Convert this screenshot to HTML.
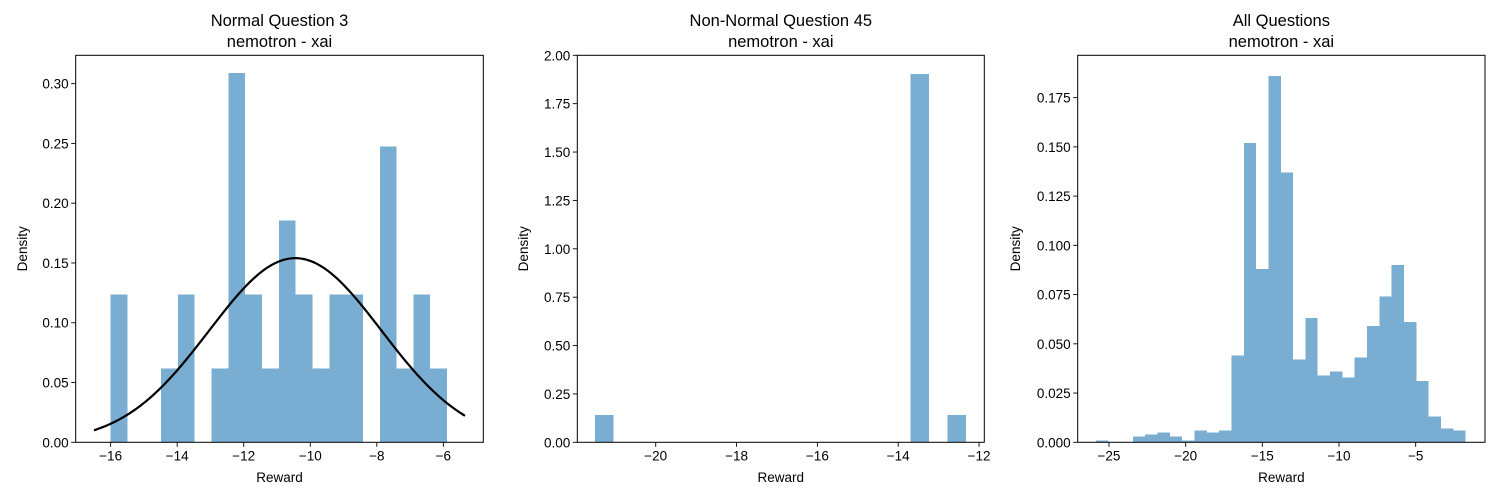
<!DOCTYPE html>
<html><head><meta charset="utf-8"><style>
body{margin:0;background:#fff;}
svg{display:block;font-family:"Liberation Sans","DejaVu Sans",sans-serif;}
</style></head><body>
<svg id="chart" width="1500" height="500" viewBox="0 0 1500 500"></svg>
<script>
// Panel 1: Normal Question 3
const p1BinStart = -16.0;
const p1BinWidth = 0.5055;
const p1Counts = [2,0,0,1,2,0,1,5,2,1,3,2,1,2,2,0,4,1,2,1];
const p1Total = 32;
const p1Mean = -10.45;
const p1Sigma = 2.59;
const p1XTicks = [-16,-14,-12,-10,-8,-6];
const p1YTicks = [0,0.05,0.10,0.15,0.20,0.25,0.30];
// Panel 2: Non-Normal Question 45
const p2BinStart = -21.5;
const p2BinWidth = 0.459;
const p2Density = [0.141,0,0,0,0,0,0,0,0,0,0,0,0,0,0,0,0,1.903,0,0.141];
const p2XTicks = [-20,-18,-16,-14,-12];
const p2YTicks = [0,0.25,0.5,0.75,1.0,1.25,1.5,1.75,2.0];
// Panel 3: All Questions
const p3BinStart = -25.85;
const p3BinWidth = 0.8035;
const p3Density = [0.001,0,0,0.003,0.004,0.005,0.003,0.001,0.006,0.005,0.006,0.044,0.152,0.088,0.186,0.137,0.042,0.063,0.034,0.036,0.033,0.043,0.059,0.074,0.090,0.061,0.031,0.013,0.007,0.006];
const p3XTicks = [-25,-20,-15,-10,-5];
const p3YTicks = [0,0.025,0.05,0.075,0.1,0.125,0.15,0.175];

const NS='http://www.w3.org/2000/svg';
const svg=document.getElementById('chart');
function mk(tag,attrs,parent){const e=document.createElementNS(NS,tag);for(const k in attrs)e.setAttribute(k,attrs[k]);(parent||svg).appendChild(e);return e;}

function panel(cfg){
  const g=mk('g',{});
  
  
  const L=cfg.left,R=cfg.right,T=55.3,B=442.3;
  const sx=v=>L+(v-cfg.xmin)/(cfg.xmax-cfg.xmin)*(R-L);
  const sy=v=>B-(v-0)/(cfg.ymax)*(B-T);
  cfg.dens.forEach((d,i)=>{
    if(d<=0) return;
    const x0=sx(cfg.start+i*cfg.w),x1=sx(cfg.start+(i+1)*cfg.w);
    const r=mk('rect',{x:x0,y:sy(d),width:x1-x0,height:B-sy(d),fill:'#79add2','shape-rendering':'crispEdges'},g);
    
    
  });
  if(cfg.curve){
    let pts=[];
    for(let k=0;k<=200;k++){const x=cfg.curve.a+(cfg.curve.b-cfg.curve.a)*k/200;
      const y=Math.exp(-0.5*Math.pow((x-cfg.curve.mu)/cfg.curve.s,2))/(cfg.curve.s*Math.sqrt(2*Math.PI));
      pts.push(sx(x).toFixed(2)+','+sy(y).toFixed(2));}
    const pl=mk('polyline',{points:pts.join(' '),fill:'none',stroke:'#000','stroke-width':2.2},g);
    
    
  }
  const fr=mk('rect',{x:L,y:T,width:R-L,height:B-T,fill:'none',stroke:'#000','stroke-width':1},g);
  
  
  cfg.xt.forEach(t=>{const x=sx(t);
    mk('line',{x1:x,x2:x,y1:B,y2:B+4.5,stroke:'#000','stroke-width':0.9},g);
    const tx=mk('text',{x:x,y:B+18,'font-size':13.5,'text-anchor':'middle',fill:'#000'},g);
    tx.textContent=(t<0?'\u2212'+(-t):String(t));
    
    
  });
  cfg.yt.forEach(t=>{const y=sy(t);
    mk('line',{x1:L-4.5,x2:L,y1:y,y2:y,stroke:'#000','stroke-width':0.9},g);
    const tx=mk('text',{x:L-7,y:y+5,'font-size':13.5,'text-anchor':'end',fill:'#000'},g);
    tx.textContent=t.toFixed(cfg.dec);
    
    
  });
  const cx=(L+R)/2;
  const t1=mk('text',{x:cx,y:26,'font-size':16.5,'text-anchor':'middle'},g);t1.textContent=cfg.title;
  
  
  const t2=mk('text',{x:cx,y:47,'font-size':16.5,'text-anchor':'middle'},g);t2.textContent='nemotron - xai';
  
  
  const xl=mk('text',{x:cx,y:482,'font-size':13.5,'text-anchor':'middle'},g);xl.textContent='Reward';
  
  
  const yy=(T+B)/2;
  const yl=mk('text',{x:cfg.ylx,y:yy,'font-size':13.5,'text-anchor':'middle',transform:'rotate(-90 '+cfg.ylx+' '+yy+')'},g);yl.textContent='Density';
  
  
}
const p1Dens=p1Counts.map(c=>c/(p1Total*p1BinWidth));
panel({name:'panel-normal-question-3',left:75.7,right:483.3,xmin:-17.05,xmax:-4.8,ymax:0.3237,start:p1BinStart,w:p1BinWidth,dens:p1Dens,xt:p1XTicks,yt:p1YTicks,dec:2,title:'Normal Question 3',ylx:27,curve:{a:-16.5,b:-5.35,mu:p1Mean,s:p1Sigma}});
panel({name:'panel-non-normal-question-45',left:577.3,right:984.3,xmin:-21.94,xmax:-11.87,ymax:2.0,start:p2BinStart,w:p2BinWidth,dens:p2Density,xt:p2XTicks,yt:p2YTicks,dec:2,title:'Non-Normal Question 45',ylx:528});
panel({name:'panel-all-questions',left:1077.7,right:1485,xmin:-27.04,xmax:-0.48,ymax:0.1965,start:p3BinStart,w:p3BinWidth,dens:p3Density,xt:p3XTicks,yt:p3YTicks,dec:3,title:'All Questions',ylx:1020});
</script>
</body></html>
